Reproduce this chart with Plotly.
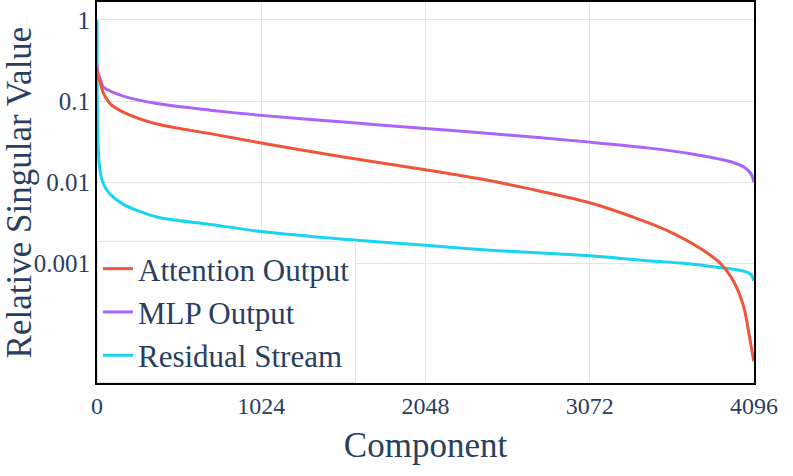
import plotly.graph_objects as go

# Data
attn_x = [0, 2, 6, 19, 40, 81, 164, 373, 706, 1024, 1537, 2048, 2454, 2722, 2891,
          3072, 3203, 3328, 3559, 3765, 3890, 3971, 4034, 4065, 4095]
attn_y = [0.25, 0.23, 0.2, 0.172, 0.124, 0.093, 0.073, 0.052, 0.0396, 0.0303, 0.0204,
          0.0142, 0.0104, 0.00805, 0.00679, 0.00556, 0.00462, 0.00378, 0.0025, 0.0015,
          0.000975, 0.000583, 0.000278, 0.000132, 0.0000612]

mlp_x = [0, 2, 6, 19, 40, 164, 373, 706, 1024, 1537, 2048, 2392, 3072, 3432, 3744,
         3952, 4036, 4078, 4095]
mlp_y = [0.28, 0.25, 0.22, 0.19, 0.149, 0.115, 0.093, 0.077, 0.0665, 0.055, 0.0457,
         0.0406, 0.0311, 0.0264, 0.0216, 0.0178, 0.0152, 0.0126, 0.0100]

resid_x = [0, 1, 3, 8, 19, 40, 81, 164, 373, 706, 1024, 1537, 2048, 2454, 3072,
           3453, 3640, 3900, 4036, 4078, 4095]
resid_y = [1, 0.2, 0.05, 0.0245, 0.0138, 0.0095, 0.0071, 0.0053, 0.0037, 0.0030,
           0.00245, 0.00197, 0.00166, 0.00144, 0.00123, 0.00106, 0.001, 0.00087,
           0.00079, 0.00072, 0.0006]

x_ticks = [0, 1024, 2048, 3072, 4096]
y_ticks = [1, 0.1, 0.01, 0.001]
y_ticktext = ["1", "0.1", "0.01", "0.001"]

FONT = "Liberation Serif, Times New Roman, serif"
TXT = "#2a3f5f"

fig = go.Figure()
fig.add_trace(go.Scatter(x=resid_x, y=resid_y, mode="lines", name="Residual Stream",
                         line=dict(color="#19D3F3", width=3, shape="spline", smoothing=0.8),
                         legendrank=3))
fig.add_trace(go.Scatter(x=mlp_x, y=mlp_y, mode="lines", name="MLP Output",
                         line=dict(color="#AB63FA", width=3, shape="spline", smoothing=0.8),
                         legendrank=2))
fig.add_trace(go.Scatter(x=attn_x, y=attn_y, mode="lines", name="Attention Output",
                         line=dict(color="#EF553B", width=3, shape="spline", smoothing=0.8),
                         legendrank=1))

fig.update_layout(
    width=793, height=476,
    template="plotly_white",
    paper_bgcolor="white", plot_bgcolor="white",
    margin=dict(l=97, r=39, t=2, b=93),
    font=dict(family=FONT, color=TXT, size=24),
    legend=dict(x=0, y=0, xanchor="left", yanchor="bottom",
                bgcolor="white", bordercolor="#e5e5e5", borderwidth=1,
                font=dict(size=31, family=FONT, color=TXT)),
    xaxis=dict(
        range=[0, 4096], tickvals=x_ticks, automargin=False,
        title=dict(text="Component", font=dict(size=35, family=FONT, color=TXT)),
        showline=True, linecolor="black", linewidth=2, mirror=True,
        showgrid=True, gridcolor="#e5e5e5", gridwidth=1, zeroline=False,
        tickfont=dict(size=24, family=FONT, color=TXT),
    ),
    yaxis=dict(
        type="log", range=[-4.48, 0.222], tickvals=y_ticks, ticktext=y_ticktext,
        automargin=False,
        title=dict(text="Relative Singular Value", standoff=2,
                   font=dict(size=35, family=FONT, color=TXT)),
        showline=True, linecolor="black", linewidth=2, mirror=True,
        showgrid=True, gridcolor="#e5e5e5", gridwidth=1, zeroline=False,
        tickfont=dict(size=25, family=FONT, color=TXT),
    ),
)

fig.write_html("out.html", config={"displayModeBar": False},
               post_script="document.body.style.margin='0';")
